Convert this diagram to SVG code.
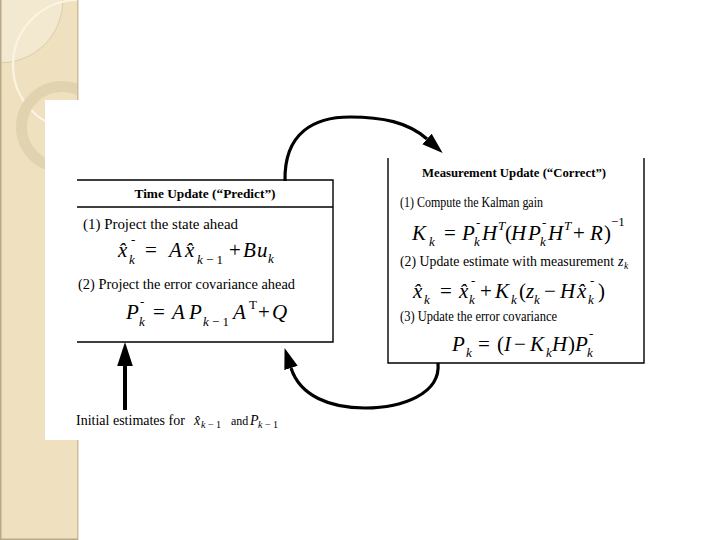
<svg xmlns="http://www.w3.org/2000/svg" width="720" height="540" viewBox="0 0 720 540">
<style>
.t{font-family:"Liberation Serif",serif;font-size:14px;fill:#000}
.b{font-family:"Liberation Serif",serif;font-size:13.5px;font-weight:bold;fill:#000}
.m{font-family:"Liberation Serif",serif;font-size:21px;font-style:italic;fill:#000}
.s{font-size:13px}
.u{font-style:normal}
.box{fill:none;stroke:#000;stroke-width:1.4}
.arc{fill:none;stroke:#000;stroke-width:3.2}
</style>
<defs>
<marker id="ah" markerUnits="userSpaceOnUse" markerWidth="22" markerHeight="16" refX="0" refY="7" orient="auto" viewBox="0 0 22 14">
<path d="M0,0 L21,7 L0,14 z" fill="#000"/>
</marker>
<marker id="ah2" markerUnits="userSpaceOnUse" markerWidth="24" markerHeight="16" refX="0" refY="7.5" orient="auto" viewBox="0 0 23 15">
<path d="M0,0 L23,7.5 L0,15 z" fill="#000"/>
</marker>
<clipPath id="pc"><rect x="0" y="0" width="78" height="540"/></clipPath>
</defs>
<rect width="720" height="540" fill="#fff"/>
<g id="background">
<rect x="0" y="0" width="78" height="540" fill="#EFE1C0"/>
<g clip-path="url(#pc)">
<circle cx="0" cy="0" r="63" fill="#F3E9D0" stroke="#D6C5A2" stroke-width="0.8"/>
<circle cx="78" cy="65" r="65" fill="none" stroke="#FBF4E2" stroke-width="2.2"/>
<circle cx="62" cy="127" r="40.5" fill="none" stroke="#E1D2B0" stroke-width="11"/>
</g>
<rect x="0" y="0" width="1.5" height="540" fill="#B9A98A"/>
<rect x="77" y="0" width="1.5" height="540" fill="#CDBD9C"/>
<rect x="0" y="538.5" width="78" height="1.5" fill="#B9A98A"/>
<rect x="45" y="100" width="675" height="340" fill="#fff"/>
</g>
<g id="time-update">
<path class="box" d="M77,180 H333 V342 H77 M77,207 H333"/>
<text class="b" x="205" y="198" text-anchor="middle" textLength="141" lengthAdjust="spacingAndGlyphs">Time Update (“Predict”)</text>
<text class="t" x="83" y="229" font-size="14.5" textLength="155" lengthAdjust="spacingAndGlyphs">(1) Project the state ahead</text>
<text class="m" y="257"><tspan x="118">x̂</tspan><tspan class="s" x="129" y="264">k</tspan><tspan class="s u" x="131" y="244">-</tspan><tspan class="u" x="145" y="257">=</tspan><tspan x="169">A</tspan><tspan x="185">x̂</tspan><tspan class="s" x="197" y="264">k<tspan class="u"> − 1</tspan></tspan><tspan class="u" x="229" y="257">+</tspan><tspan x="243">B</tspan><tspan x="257">u</tspan><tspan class="s" x="268" y="263">k</tspan></text>
<text class="t" x="78" y="289" font-size="14.5" textLength="217" lengthAdjust="spacingAndGlyphs">(2) Project the error covariance ahead</text>
<text class="m" y="319"><tspan x="126">P</tspan><tspan class="s" x="139" y="326">k</tspan><tspan class="s u" x="140" y="306">-</tspan><tspan class="u" x="153" y="319">=</tspan><tspan x="172">A</tspan><tspan x="189">P</tspan><tspan class="s" x="203" y="326">k<tspan class="u"> − 1</tspan></tspan><tspan x="233" y="319">A</tspan><tspan class="s u" x="249" y="309">T</tspan><tspan class="u" x="258" y="319">+</tspan><tspan x="272">Q</tspan></text>
</g>
<g id="measurement-update">
<path class="box" d="M388,158 V363 H644 V158"/>
<text class="b" x="514" y="177" text-anchor="middle" font-size="13" textLength="184" lengthAdjust="spacingAndGlyphs">Measurement Update (“Correct”)</text>
<text class="t" x="400" y="207" font-size="13.5" textLength="143" lengthAdjust="spacingAndGlyphs">(1) Compute the Kalman gain</text>
<text class="m" y="240"><tspan x="412">K</tspan><tspan class="s" x="429" y="246">k</tspan><tspan class="u" x="444" y="240">=</tspan><tspan x="462">P</tspan><tspan class="s" x="474" y="246">k</tspan><tspan class="s u" x="476" y="227">-</tspan><tspan x="482" y="240">H</tspan><tspan class="s" x="498" y="230">T</tspan><tspan class="u" x="505" y="240">(</tspan><tspan x="511">H</tspan><tspan x="528">P</tspan><tspan class="s" x="540" y="246">k</tspan><tspan class="s u" x="542" y="227">-</tspan><tspan x="548" y="240">H</tspan><tspan class="s" x="564" y="230">T</tspan><tspan class="u" x="573" y="240">+</tspan><tspan x="590">R</tspan><tspan class="u" x="604">)</tspan><tspan class="s u" x="611" y="226">−1</tspan></text>
<text class="t" x="400" y="266" font-size="13.5"><tspan textLength="214" lengthAdjust="spacingAndGlyphs">(2) Update estimate with measurement</tspan><tspan font-style="italic" x="618">z</tspan><tspan font-style="italic" font-size="9.5" x="624" y="269">k</tspan></text>
<text class="m" y="298"><tspan x="413">x̂</tspan><tspan class="s" x="424" y="304">k</tspan><tspan class="u" x="440" y="298">=</tspan><tspan x="459">x̂</tspan><tspan class="s" x="469" y="304">k</tspan><tspan class="s u" x="471" y="285">-</tspan><tspan class="u" x="480" y="298">+</tspan><tspan x="495">K</tspan><tspan class="s" x="511" y="304">k</tspan><tspan class="u" x="519" y="298">(</tspan><tspan x="526">z</tspan><tspan class="s" x="534" y="304">k</tspan><tspan class="u" x="544" y="298">−</tspan><tspan x="560">H</tspan><tspan x="577">x̂</tspan><tspan class="s" x="588" y="304">k</tspan><tspan class="s u" x="590" y="285">-</tspan><tspan class="u" x="598" y="298">)</tspan></text>
<text class="t" x="400" y="321" font-size="13.5" textLength="157" lengthAdjust="spacingAndGlyphs">(3) Update the error covariance</text>
<text class="m" y="351"><tspan x="452">P</tspan><tspan class="s" x="466" y="357">k</tspan><tspan class="u" x="478" y="351">=</tspan><tspan class="u" x="497">(</tspan><tspan x="504">I</tspan><tspan class="u" x="514">−</tspan><tspan x="530">K</tspan><tspan class="s" x="546" y="357">k</tspan><tspan x="552" y="351">H</tspan><tspan class="u" x="568">)</tspan><tspan x="575">P</tspan><tspan class="s" x="587" y="357">k</tspan><tspan class="s u" x="589" y="338">-</tspan></text>
</g>
<g id="initial-estimates">
<text class="t" x="76" y="425" font-size="12">Initial estimates for</text>
<text class="t" y="425" font-size="12.5" font-style="italic"><tspan x="194">x̂</tspan><tspan font-size="10" x="201" y="428">k<tspan font-style="normal"> − 1</tspan></tspan><tspan font-style="normal" font-size="12" x="231" y="425">and</tspan><tspan x="250">P</tspan><tspan font-size="10" x="258" y="428">k<tspan font-style="normal"> − 1</tspan></tspan></text>
</g>
<g id="connectors">
<path class="arc" d="M285,181 C284,132 315,117 350,117 C382,117 408,122 427,139" marker-end="url(#ah)"/>
<path class="arc" d="M438,363 C441,394 402,408 365,408 C330,408 300,396 291,368" marker-end="url(#ah)"/>
<path d="M125,410 V366" fill="none" stroke="#000" stroke-width="4" marker-end="url(#ah2)"/>
</g>
</svg>
